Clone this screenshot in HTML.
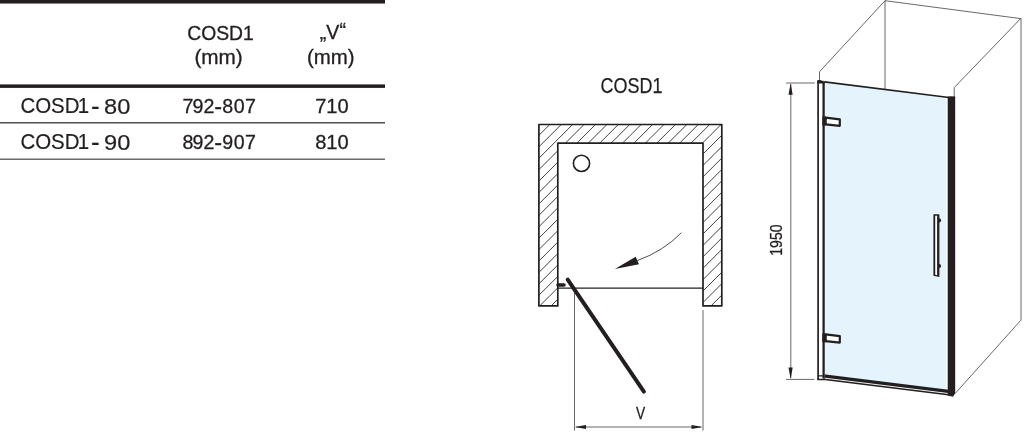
<!DOCTYPE html>
<html lang="cs">
<head>
<meta charset="utf-8">
<title>COSD1</title>
<style>
html,body{margin:0;padding:0;background:#fff;}
body{width:1026px;height:432px;overflow:hidden;position:relative;}
svg{position:absolute;left:0;top:0;display:block;will-change:transform;}
text{font-family:"Liberation Sans",sans-serif;fill:#231f20;}
.t{font-size:19.6px;stroke:#231f20;stroke-width:0.3px;}
.r{font-size:22.2px;stroke:#231f20;stroke-width:0.2px;}
.n{font-size:22.2px;stroke:#231f20;stroke-width:0.25px;}
.s{font-size:16.9px;stroke:#231f20;stroke-width:0.3px;}
</style>
</head>
<body>
<svg width="1026" height="432" viewBox="0 0 1026 432">
<defs><clipPath id="wallclip"><path d="M538.9,124.5 H721.8 V305.9 H703 V143.2 H557.8 V305.9 H538.9 Z"/></clipPath></defs>
<g id="table">
<rect x="0" y="0" width="385" height="3.55" fill="#231f20"/>
<rect x="0" y="84.4" width="385" height="3.5" fill="#231f20"/>
<rect x="0" y="122" width="385" height="1.55" fill="#555253"/>
<rect x="0" y="158.5" width="385" height="1.5" fill="#6d6a6b"/>
<text class="t" x="187.2" y="40" textLength="66.6" lengthAdjust="spacingAndGlyphs">COSD1</text>
<text class="t" x="194.4" y="64" textLength="48.4" lengthAdjust="spacingAndGlyphs">(mm)</text>
<text class="t" x="319.8" y="39" font-size="21">„V<tspan dy="-2">“</tspan></text>
<text class="t" x="307" y="64" textLength="47.6" lengthAdjust="spacingAndGlyphs">(mm)</text>
<text class="r" y="113"><tspan x="20.4" textLength="59.1" lengthAdjust="spacingAndGlyphs">COSD</tspan><tspan x="77.7" textLength="11.4" lengthAdjust="spacingAndGlyphs">1</tspan> <tspan x="90.9" dy="2" font-size="26">-</tspan> <tspan x="104.1" dy="-1" font-size="22.3" textLength="26.3" lengthAdjust="spacingAndGlyphs">80</tspan></text>
<text class="t" y="113" x="182.4 192.4 203.5">792<tspan x="214.2" dy="1" font-size="23.5">-</tspan><tspan dy="-1" x="222.2 233.7 245.1">807</tspan></text>
<text class="t" x="315.2" y="113" textLength="33.5" lengthAdjust="spacingAndGlyphs">710</text>
<text class="r" y="149"><tspan x="20.4" textLength="59.1" lengthAdjust="spacingAndGlyphs">COSD</tspan><tspan x="77.7" textLength="11.4" lengthAdjust="spacingAndGlyphs">1</tspan> <tspan x="90.9" dy="2" font-size="26">-</tspan> <tspan x="104.1" dy="-1" font-size="22.3" textLength="26.3" lengthAdjust="spacingAndGlyphs">90</tspan></text>
<text class="t" y="149" x="182.4 192.4 203.5">892<tspan x="214.2" dy="1" font-size="23.5">-</tspan><tspan dy="-1" x="222.2 233.7 245.1">907</tspan></text>
<text class="t" x="315.2" y="149" textLength="33.5" lengthAdjust="spacingAndGlyphs">810</text>
</g>
<g id="plan">
<text class="n" x="600.5" y="93" textLength="62" lengthAdjust="spacingAndGlyphs">COSD1</text>
<path d="M520.04,120 L330.04,310 M531.46,120 L341.46,310 M542.88,120 L352.88,310 M554.30,120 L364.30,310 M565.72,120 L375.72,310 M577.14,120 L387.14,310 M588.56,120 L398.56,310 M599.98,120 L409.98,310 M611.40,120 L421.40,310 M622.82,120 L432.82,310 M634.24,120 L444.24,310 M645.66,120 L455.66,310 M657.08,120 L467.08,310 M668.50,120 L478.50,310 M679.92,120 L489.92,310 M691.34,120 L501.34,310 M702.76,120 L512.76,310 M714.18,120 L524.18,310 M725.60,120 L535.60,310 M737.02,120 L547.02,310 M748.44,120 L558.44,310 M759.86,120 L569.86,310 M771.28,120 L581.28,310 M782.70,120 L592.70,310 M794.12,120 L604.12,310 M805.54,120 L615.54,310 M816.96,120 L626.96,310 M828.38,120 L638.38,310 M839.80,120 L649.80,310 M851.22,120 L661.22,310 M862.64,120 L672.64,310 M874.06,120 L684.06,310 M885.48,120 L695.48,310 M896.90,120 L706.90,310 M908.32,120 L718.32,310" stroke="#231f20" stroke-width="0.85" fill="none" clip-path="url(#wallclip)"/>
<path d="M538.9,124.5 H721.8 V305.9 H703 V143.2 H557.8 V305.9 H538.9 Z" fill="none" stroke="#231f20" stroke-width="1.7" stroke-linejoin="round"/>
<circle cx="581.5" cy="163.4" r="8.1" fill="none" stroke="#231f20" stroke-width="1.6"/>
<path d="M557.8,288.1 H703" stroke="#231f20" stroke-width="1.4" fill="none"/>
<path d="M574.5,289 V430.6 M703,310 V430.6 M576,427 H701" stroke="#231f20" stroke-width="0.68" fill="none"/>
<path d="M574.8,427 L586,424.9 V429.1 Z M702.7,427 L691.5,424.9 V429.1 Z" fill="#231f20"/>
<text class="s" x="635.9" y="418.7" textLength="9.2" lengthAdjust="spacingAndGlyphs">V</text>
<path d="M558,285.1 H564" stroke="#231f20" stroke-width="3.5" stroke-linecap="round" fill="none"/>
<path d="M567.7,279.6 L643.9,391.6" stroke="#231f20" stroke-width="4" stroke-linecap="round" fill="none"/>
<path d="M681.3,232.8 Q663.2,251.3 637.5,260.5" stroke="#231f20" stroke-width="0.8" fill="none"/>
<path d="M614.9,269.1 L635.7,256.7 L639,264.3 Z" fill="#231f20"/>
</g>
<g id="iso">
<path d="M819.5,81 V71.8 L885,0.7 L1020.6,18.6 M1021,18.4 V320.1 L955.4,393.2 M885,0.7 V90 M1020.8,18.4 L954.2,87.6 V97" stroke="#231f20" stroke-width="0.68" fill="none" stroke-linejoin="round"/>
<path d="M786.1,83 H814.7 M786.1,379.4 H814.4 M790.8,84 V378" stroke="#231f20" stroke-width="0.68" fill="none"/>
<path d="M790.6,83.2 L792.7,94.8 H788.5 Z M790.6,379.2 L792.7,367.5 H788.5 Z" fill="#231f20"/>
<text class="s" transform="translate(782.4,255.7) rotate(-90)" x="0" y="0" textLength="31.2" lengthAdjust="spacingAndGlyphs">1950</text>
<path d="M824.5,81.96 L946.4,97.20 L946.4,390.03 L824.5,375.04 Z" fill="#e4f3fc"/>
<path d="M819,376.33 L948,392.00 V394.60 L819,378.73 Z" fill="#f3f3f3"/>
<path d="M823.5,375.92 L948.5,391.29" stroke="#231f20" stroke-width="3.3" fill="none"/>
<path d="M817.2,378.51 L952.5,395.15" stroke="#231f20" stroke-width="1.5" fill="none"/>
<path d="M818.5,81.21 L949,97.53" stroke="#231f20" stroke-width="1.7" fill="none"/>
<path d="M817.2,80.6 H823 L824.8,82 V376 L823,379.6 H817.2 Z" fill="#fff"/>
<path d="M818.1,80.3 V380 " stroke="#231f20" stroke-width="1.7" fill="none"/>
<path d="M823.6,81.5 V378.6" stroke="#231f20" stroke-width="2.3" fill="none"/>
<path d="M817.3,83.4 V81 L819.6,79.8 L824.8,82 V83.6 Z" fill="#231f20"/>
<path d="M818,375.8 H824 M817.3,379.5 H824.6" stroke="#231f20" stroke-width="1.3" fill="none"/>
<path d="M947.7,96.46 L951,96.2 L955.2,96.6 V393.2 L953,396.8 L947.7,395.4 Z" fill="#231f20"/>
<path d="M825.6,117.6 L839.8,119.3 V125.8 L825.6,124.4 Z" fill="#fff" stroke="#231f20" stroke-width="2.2" stroke-linejoin="round"/>
<path d="M822.3,116.6 H826 L826.6,119.5 L825.6,121.2 L826.6,123.0 L826,125.4 H822.3 Z" fill="#231f20"/>
<path d="M825.6,334.4 L839.8,336.1 V342.6 L825.6,341.2 Z" fill="#fff" stroke="#231f20" stroke-width="2.2" stroke-linejoin="round"/>
<path d="M822.3,333.4 H826 L826.6,336.3 L825.6,338.0 L826.6,339.8 L826,342.2 H822.3 Z" fill="#231f20"/>
<circle cx="939" cy="220.4" r="2.1" fill="#231f20"/><circle cx="939" cy="266" r="2.1" fill="#231f20"/>
<path d="M933.4,214.6 Q933.4,214.2 933.9,214.2 H938.9 Q939.4,214.2 939.4,214.7 V277 L933.4,275.7 Z" fill="#231f20"/>
<path d="M935.2,215.7 H937.1 V275.2 L935.2,274.8 Z" fill="#fff"/>
</g>
</svg>
</body>
</html>
